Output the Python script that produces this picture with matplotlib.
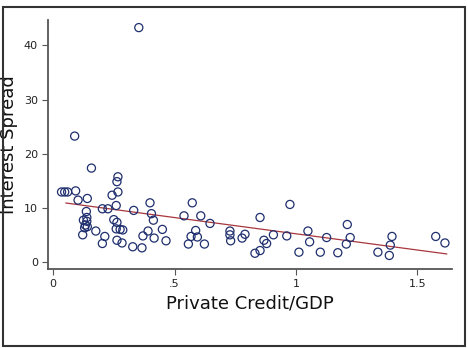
import numpy as np
import matplotlib
matplotlib.use("Agg")
import matplotlib.pyplot as plt
from matplotlib.patches import Rectangle

credit = [0.035, 0.048, 0.060, 0.089, 0.093, 0.103, 0.141, 0.158, 0.122, 0.137,
          0.139, 0.125, 0.139, 0.133, 0.141, 0.130, 0.176, 0.213, 0.203, 0.203,
          0.226, 0.243, 0.267, 0.263, 0.267, 0.260, 0.250, 0.263, 0.260, 0.276,
          0.287, 0.263, 0.284, 0.328, 0.332, 0.353, 0.366, 0.370, 0.391, 0.399,
          0.405, 0.413, 0.416, 0.450, 0.465, 0.539, 0.557, 0.568, 0.573, 0.587,
          0.594, 0.608, 0.623, 0.646, 0.728, 0.728, 0.731, 0.778, 0.790, 0.831,
          0.852, 0.852, 0.868, 0.879, 0.907, 0.962, 0.975, 1.012, 1.049, 1.056,
          1.100, 1.126, 1.172, 1.207, 1.211, 1.223, 1.337, 1.384, 1.388, 1.395,
          1.575, 1.613]
spread = [13.0, 13.0, 13.0, 23.3, 13.2, 11.5, 11.8, 17.4, 5.1, 9.4,
          8.3, 7.8, 7.6, 6.9, 6.6, 6.4, 5.8, 4.8, 3.5, 9.9,
          9.9, 12.4, 13.0, 14.9, 15.8, 10.5, 7.9, 7.4, 6.2, 6.1,
          6.0, 4.1, 3.6, 2.9, 9.6, 43.3, 2.7, 4.9, 5.8, 11.0,
          9.0, 7.8, 4.5, 6.1, 4.0, 8.6, 3.4, 4.8, 11.0, 5.9,
          4.7, 8.6, 3.4, 7.2, 5.8, 5.1, 4.0, 4.5, 5.2, 1.7,
          2.2, 8.3, 4.1, 3.5, 5.1, 4.9, 10.7, 1.9, 5.8, 3.8,
          1.9, 4.6, 1.8, 3.4, 7.0, 4.6, 1.9, 1.3, 3.2, 4.8,
          4.8, 3.6]

# Fitted regression line as shown in the chart
fit_intercept = 11.28
fit_slope = -5.99
fit_range = [0.053, 1.62]

xticks = [0, 0.5, 1, 1.5]
xticklabels = ["0", ".5", "1", "1.5"]
yticks = [0, 10, 20, 30, 40]

x = np.array(credit)
y = np.array(spread)
xs = np.array(fit_range)

fig = plt.figure(figsize=(4.68, 3.48), dpi=100)
ax = fig.add_axes([47.7 / 468, 1 - 269 / 348, (452 - 47.7) / 468, (269 - 20) / 348])

ax.plot(xs, fit_intercept + fit_slope * xs, color="#a8363c", lw=0.9, zorder=2)
ax.scatter(x, y, s=34, facecolors="none", edgecolors="#1f2f6e", linewidths=0.9, zorder=3)

ax.set_xlim(-0.022, 1.642)
ax.set_ylim(-1.2, 44.7)
ax.set_xticks(xticks)
ax.set_xticklabels(xticklabels)
ax.set_yticks(yticks)

for s in ["top", "right"]:
    ax.spines[s].set_visible(False)
for s in ["left", "bottom"]:
    ax.spines[s].set_color("#555555")
    ax.spines[s].set_linewidth(1.3)
ax.tick_params(axis="both", direction="out", length=4, width=0.8, color="#555555",
               labelsize=8, labelcolor="#222222", pad=3)

ax.set_xlabel("Private Credit/GDP", fontsize=13, color="#111111", labelpad=4)
ax.set_ylabel("Interest Spread", fontsize=13, color="#111111", labelpad=4)

fig.patches.append(Rectangle((3 / 468, 1 - 346 / 348), (465 - 3) / 468, (346 - 7) / 348,
                             transform=fig.transFigure, fill=False,
                             edgecolor="#333333", linewidth=1.5))

fig.savefig("out.png", dpi=100)
